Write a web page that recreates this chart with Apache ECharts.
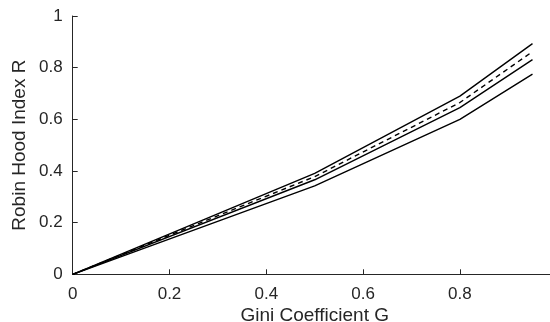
<!DOCTYPE html>
<html><head><meta charset="utf-8">
<script src="https://cdn.jsdelivr.net/npm/echarts@6/dist/echarts.min.js"></script>
<style>html,body{margin:0;padding:0;background:#fff}#c{width:550px;height:322px}</style>
</head><body><div id="c"></div>
<script>
var gini = [0, 0.5, 0.8, 0.95];
var upper = [0, 0.391, 0.690, 0.893];
var dashed = [0, 0.378, 0.665, 0.862];
var middle = [0, 0.366, 0.645, 0.831];
var lower = [0, 0.342, 0.600, 0.775];
var xTicks = [0, 0.2, 0.4, 0.6, 0.8];
var yTicks = [0, 0.2, 0.4, 0.6, 0.8, 1];

function pairs(ys){ return gini.map(function(g,i){ return [g, ys[i]]; }); }
var font = 'Liberation Sans, Arial, Helvetica, sans-serif';
var ax = '#262626';
function mk(ys, type){
  return {type:'line', data:pairs(ys), symbol:'none', animation:false,
    lineStyle:{color:'#000', width:1.4, type:type}};
}
var chart = echarts.init(document.getElementById('c'));
chart.setOption({
  backgroundColor:'#fff',
  animation:false,
  grid:{left:72.7, width:484, top:16, height:258.3, containLabel:false, outerBoundsMode:'none'},
  xAxis:{type:'value', min:0, max:1, interval:0.2,
    name:'Gini Coefficient G', nameLocation:'middle', nameGap:32, nameMoveOverlap:false,
    nameTextStyle:{fontFamily:font, fontSize:19, color:ax},
    axisLine:{show:true, lineStyle:{color:ax, width:1}},
    axisTick:{show:true, inside:true, length:5, lineStyle:{color:ax}},
    axisLabel:{fontFamily:font, fontSize:17, color:ax, margin:12,
      formatter:function(v){ return xTicks.indexOf(+v.toFixed(2))>=0 ? String(+v.toFixed(2)) : ''; }},
    splitLine:{show:false}},
  yAxis:{type:'value', min:0, max:1, interval:0.2,
    name:'Robin Hood Index R', nameLocation:'middle', nameGap:43, nameMoveOverlap:false,
    nameTextStyle:{fontFamily:font, fontSize:19, color:ax},
    axisLine:{show:true, lineStyle:{color:ax, width:1}},
    axisTick:{show:true, inside:true, length:5, lineStyle:{color:ax}},
    axisLabel:{fontFamily:font, fontSize:17, color:ax, margin:10,
      formatter:function(v){ return yTicks.indexOf(+v.toFixed(2))>=0 ? String(+v.toFixed(2)) : ''; }},
    splitLine:{show:false}},
  series:[mk(upper,'solid'), mk(dashed,[5,4]), mk(middle,'solid'), mk(lower,'solid')]
});
</script></body></html>
